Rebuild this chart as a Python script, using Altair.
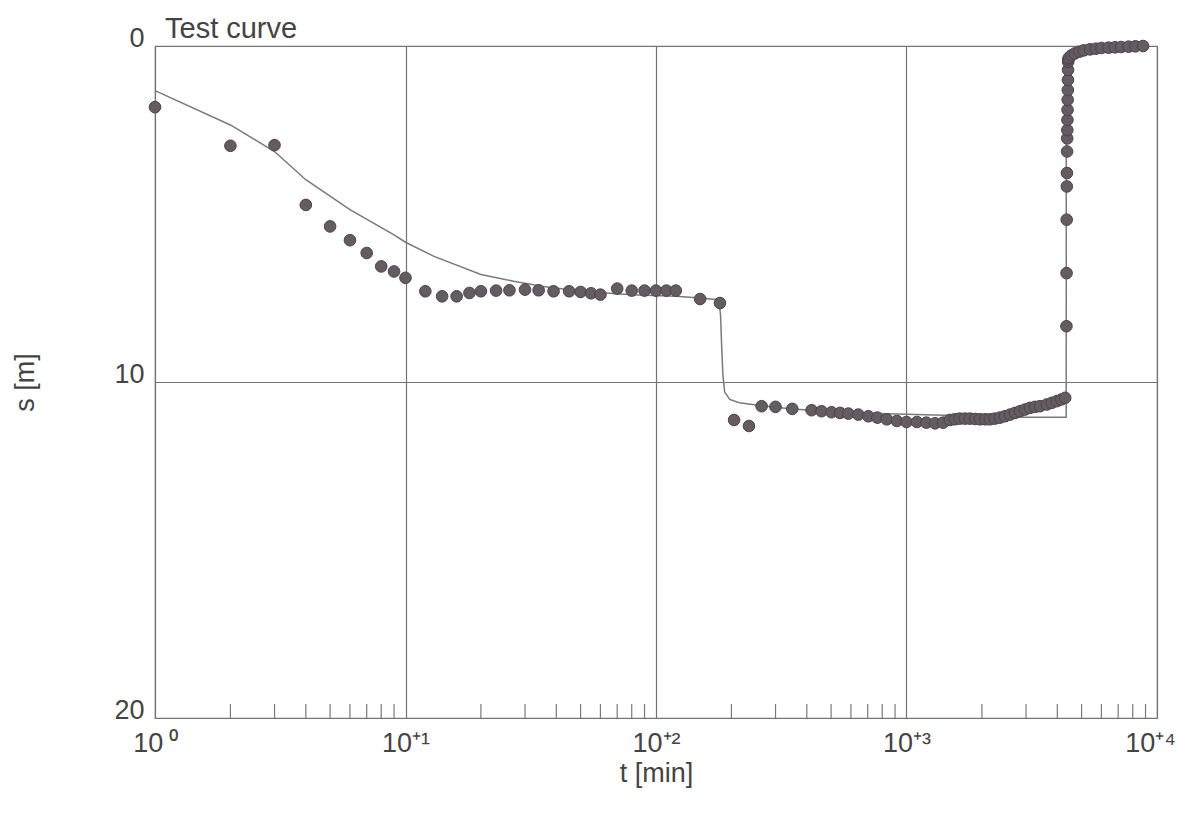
import altair as alt
import pandas as pd

# Measured points (time t in min, drawdown s in m)
pt_t = [1, 2, 3, 4, 5, 6, 7, 8, 9, 10,
        12, 14, 16, 18, 20, 23, 26, 30, 34, 39, 45, 50, 55, 60, 70, 80, 90, 100, 110, 120, 150, 180,
        205, 235, 264, 300, 350, 418, 458, 502, 543, 586, 642, 704, 765, 834, 915,
        1000, 1100, 1200, 1300, 1400, 1490, 1560, 1630, 1710, 1790, 1880, 1965, 2060, 2150, 2250,
        2360, 2470, 2590, 2710, 2840, 2970, 3110, 3260, 3410, 3630, 3800, 3980, 4150, 4300,
        4350, 4355, 4360, 4365, 4370, 4375, 4380, 4385, 4390, 4395, 4400, 4405, 4410, 4415, 4420, 4425,
        4450, 4550, 4700, 4900, 5100, 5400, 5700, 6000, 6400, 6800, 7200, 7700, 8200, 8800]
pt_s = [1.82, 2.97, 2.95, 4.73, 5.37, 5.78, 6.16, 6.56, 6.71, 6.9,
        7.30, 7.45, 7.45, 7.35, 7.30, 7.28, 7.27, 7.25, 7.27, 7.30, 7.30, 7.32, 7.36, 7.40, 7.22, 7.28, 7.28, 7.28, 7.28, 7.28, 7.53, 7.65,
        11.13, 11.31, 10.72, 10.74, 10.8, 10.84, 10.87, 10.90, 10.92, 10.94, 10.97, 11.02, 11.06, 11.11, 11.16,
        11.19, 11.19, 11.21, 11.23, 11.21, 11.13, 11.11, 11.09, 11.09, 11.09, 11.10, 11.11, 11.11, 11.11, 11.09,
        11.06, 11.02, 10.97, 10.92, 10.87, 10.82, 10.77, 10.74, 10.72, 10.67, 10.62, 10.57, 10.52, 10.47,
        8.34, 6.76, 5.17, 4.18, 3.78, 3.14, 2.75, 2.5, 2.2, 1.9, 1.6, 1.31, 1.01, 0.71, 0.47, 0.4,
        0.35, 0.28, 0.22, 0.17, 0.13, 0.10, 0.08, 0.06, 0.05, 0.04, 0.03, 0.02, 0.01, 0.0]

# Test (type) curve
ln_t = [1, 2, 3, 4, 6, 9, 10, 13, 20, 27, 35, 50, 80, 120, 150, 178, 181, 183, 185, 188, 197, 215, 260,
        350, 500, 700, 1000, 2000, 3000, 4340, 4345, 4380, 4500, 4800, 5500, 7000, 9000]
ln_s = [1.33, 2.35, 3.14, 3.98, 4.87, 5.62, 5.84, 6.26, 6.8, 7.0, 7.15, 7.3, 7.4, 7.45, 7.5, 7.55, 8.0, 9.0, 9.8,
        10.3, 10.52, 10.62, 10.7, 10.8, 10.88, 10.93, 10.96, 11.02, 11.05, 11.05, 1.0, 0.5, 0.35, 0.25, 0.15,
        0.08, 0.05]

chart_title = "Test curve"
x_tick_values = [1, 10, 100, 1000, 10000]
x_tick_labels = ["10\u2009\u2070", "10\u207a\u00b9", "10\u207a\u00b2", "10\u207a\u00b3", "10\u207a\u2074"]
y_tick_values = [0, 10, 20]
minor_multipliers = [2, 3, 4, 5, 6, 7, 8, 9]
minor_ticks = [m * d for d in x_tick_values[:-1] for m in minor_multipliers]

FONT = "Liberation Sans"
TXT = "#444444"
W, H = 1002, 672

pts = pd.DataFrame({"t": pt_t, "s": pt_s})
crv = pd.DataFrame({"t": ln_t, "s": ln_s, "i": list(range(len(ln_t)))})
mt = pd.DataFrame({"t": minor_ticks})

label_expr = " : ".join(
    [f"datum.value == {v} ? '{l}'" for v, l in zip(x_tick_values, x_tick_labels)]
) + " : ''"

xscale = alt.Scale(type="log", domain=[1, 10000])
yscale = alt.Scale(domain=[0, 20], reverse=True)

xaxis = alt.Axis(values=x_tick_values, labelExpr=label_expr, grid=True, ticks=False, domain=False,
                 labelPadding=12, title="t [min]", titlePadding=4, labelFlush=False,
                 labelOffset={"condition": {"test": f"datum.value == {x_tick_values[-1]}", "value": -7},
                              "value": 0})
yaxis = alt.Axis(values=y_tick_values, grid=True, ticks=False, domain=False, labelPadding=11,
                 labelBaseline="alphabetic", title="s [m]", titlePadding=74)

line = alt.Chart(crv).mark_line(color="#7a7a7a", strokeWidth=1.5).encode(
    x=alt.X("t:Q", scale=xscale, axis=xaxis),
    y=alt.Y("s:Q", scale=yscale, axis=yaxis),
    order="i:Q",
)

dots = alt.Chart(pts).mark_point(filled=True, shape="circle", size=135, color="#645c61",
                                 stroke="#4a4448", strokeWidth=1, opacity=1).encode(
    x=alt.X("t:Q", scale=xscale),
    y=alt.Y("s:Q", scale=yscale),
)

ticks = alt.Chart(mt).mark_rule(color="#7a7a7a", strokeWidth=1.2).encode(
    x=alt.X("t:Q", scale=xscale),
    y=alt.value(H),
    y2=alt.value(H - 14),
)

title = alt.Chart(pd.DataFrame({"label": [chart_title]})).mark_text(
    align="left", baseline="alphabetic", font=FONT, fontSize=29, color=TXT
).encode(text="label:N", x=alt.value(10), y=alt.value(-8))

chart = alt.layer(ticks, line, dots, title).properties(
    width=W, height=H,
    background="white",
    autosize=alt.AutoSizeParams(type="none"),
    padding={"left": 147, "top": 38, "right": 20, "bottom": 88},
).configure_axis(
    labelFont=FONT, labelFontSize=27, labelColor=TXT,
    titleFont=FONT, titleFontSize=27, titleFontWeight="normal", titleColor=TXT,
    gridColor="#737373", gridWidth=1.2, gridOpacity=1,
).configure_view(
    stroke="#808080", strokeWidth=1.2,
)

chart.save("out.html", embed_options={"renderer": "svg", "actions": False})
